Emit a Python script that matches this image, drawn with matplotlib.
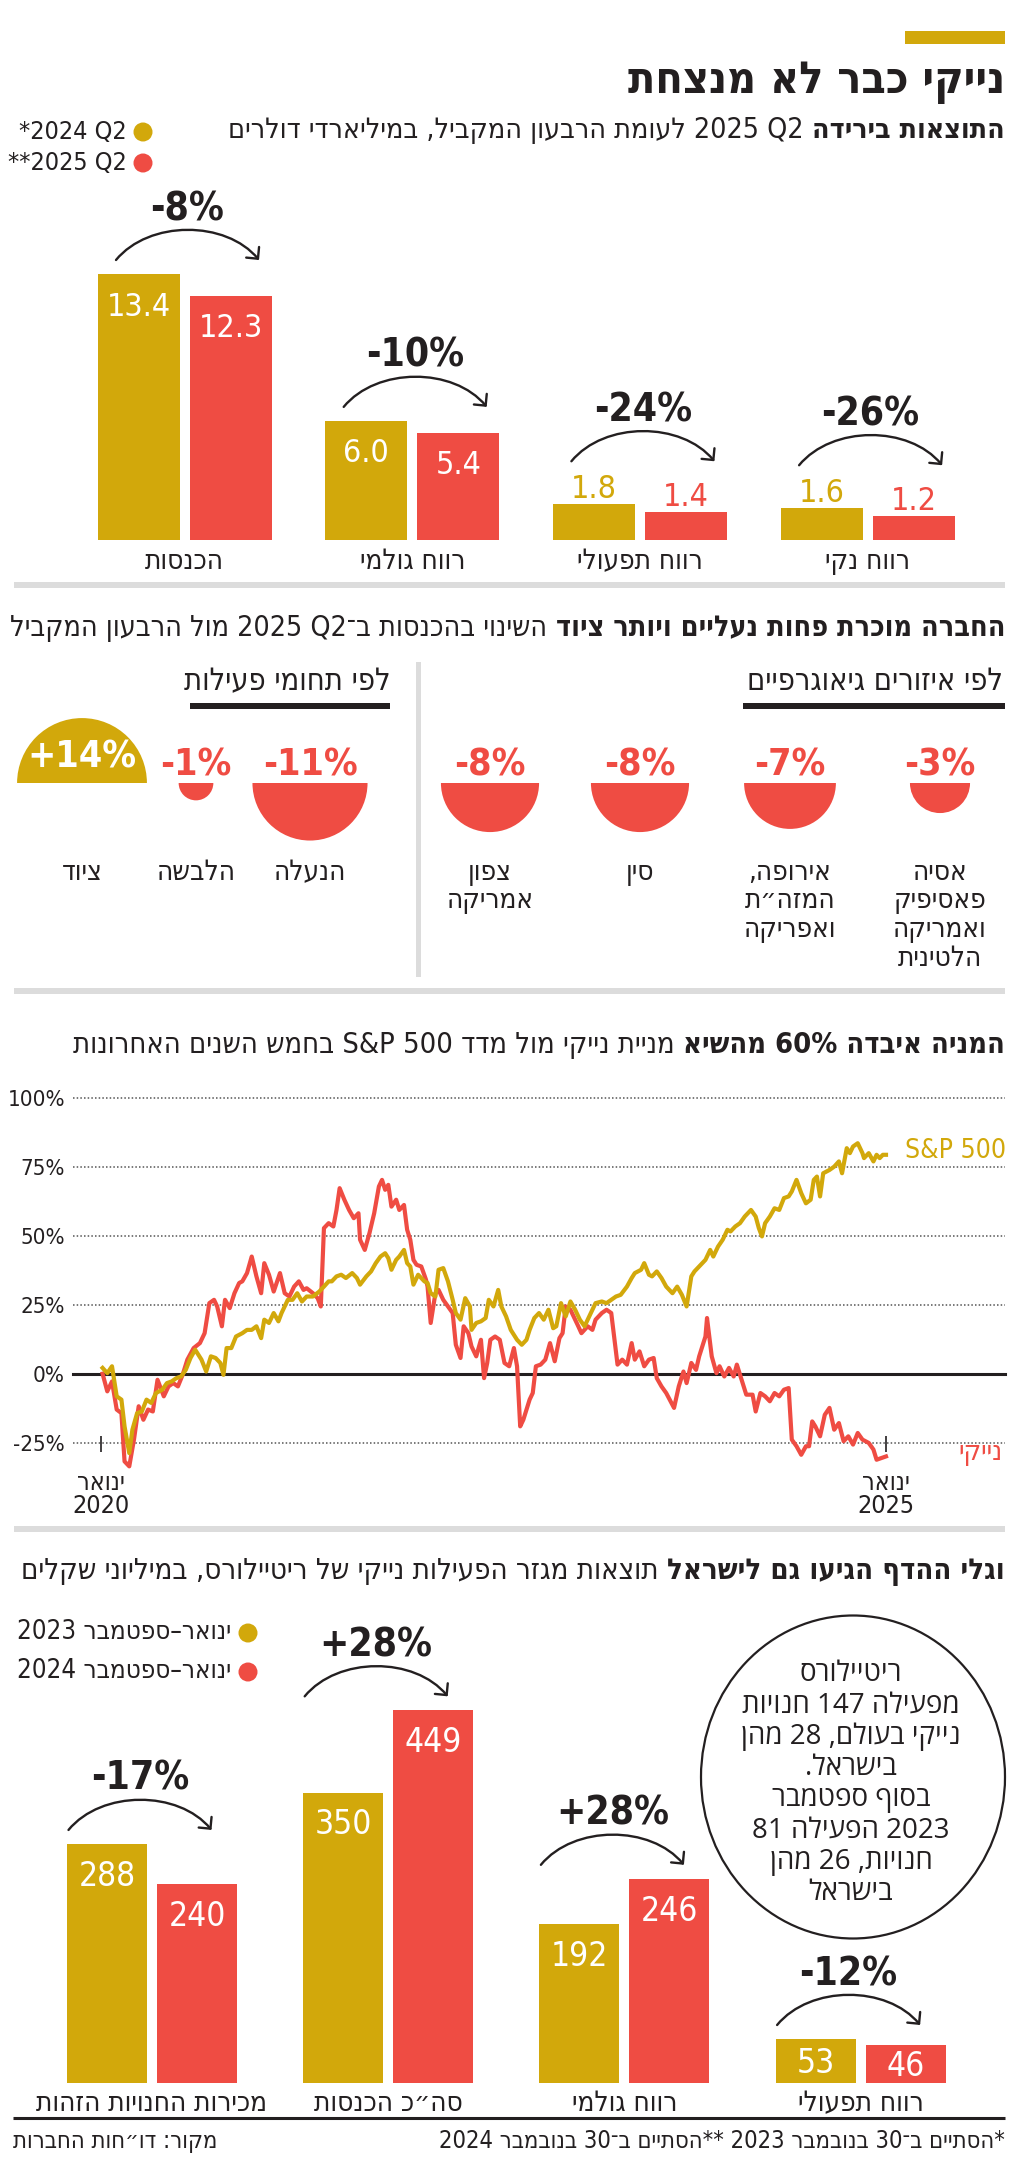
import re
import numpy as np
import matplotlib
matplotlib.use('Agg')
import matplotlib.pyplot as plt
from matplotlib import font_manager as fm
from matplotlib.ft2font import FT2Font
from matplotlib.patches import Rectangle, Circle, Wedge, Ellipse, FancyArrowPatch
from matplotlib.path import Path

# ---------------- data ----------------
cats1 = ["הכנסות", "רווח גולמי", "רווח תפעולי", "רווח נקי"]
q2_2024 = [13.4, 6.0, 1.8, 1.6]
q2_2025 = [12.3, 5.4, 1.4, 1.2]
chg1 = ["-8%", "-10%", "-24%", "-26%"]

regions = ["אסיה\nפאסיפיק\nואמריקה\nהלטינית", "אירופה,\nהמזה״ת\nואפריקה", "סין", "צפון\nאמריקה"]
region_chg = [-3, -7, -8, -8]
segments = ["הנעלה", "הלבשה", "ציוד"]
segment_chg = [-11, -1, 14]

nike_t = [2020.01, 2020.04, 2020.07, 2020.10, 2020.13, 2020.15, 2020.18, 2020.21, 2020.24, 2020.27,
          2020.30, 2020.33, 2020.36, 2020.40, 2020.43, 2020.46, 2020.49, 2020.52, 2020.55, 2020.59,
          2020.63, 2020.66, 2020.69, 2020.72, 2020.74, 2020.77, 2020.79, 2020.82, 2020.85, 2020.88,
          2020.90, 2020.93, 2020.96, 2020.99, 2021.02, 2021.04, 2021.07, 2021.10, 2021.14, 2021.17,
          2021.20, 2021.23, 2021.26, 2021.29, 2021.31, 2021.35, 2021.38, 2021.40, 2021.42, 2021.45,
          2021.48, 2021.50, 2021.52, 2021.55, 2021.58, 2021.61, 2021.64, 2021.65, 2021.68, 2021.71,
          2021.74, 2021.77, 2021.79, 2021.81, 2021.83, 2021.85, 2021.88, 2021.90, 2021.93, 2021.95,
          2021.97, 2021.99, 2022.01, 2022.04, 2022.07, 2022.08, 2022.10, 2022.13, 2022.15, 2022.18,
          2022.21, 2022.24, 2022.26, 2022.29, 2022.31, 2022.34, 2022.36, 2022.39, 2022.42, 2022.44,
          2022.46, 2022.48, 2022.51, 2022.54, 2022.57, 2022.60, 2022.63, 2022.65, 2022.67, 2022.69,
          2022.71, 2022.73, 2022.75, 2022.77, 2022.80, 2022.83, 2022.86, 2022.89, 2022.92, 2022.94,
          2022.96, 2022.99, 2023.01, 2023.04, 2023.06, 2023.10, 2023.13, 2023.15, 2023.19, 2023.22,
          2023.25, 2023.29, 2023.32, 2023.35, 2023.38, 2023.40, 2023.43, 2023.46, 2023.49, 2023.52,
          2023.54, 2023.57, 2023.60, 2023.65, 2023.68, 2023.71, 2023.73, 2023.76, 2023.79, 2023.81,
          2023.85, 2023.86, 2023.89, 2023.92, 2023.94, 2023.97, 2024.00, 2024.03, 2024.05, 2024.08,
          2024.11, 2024.15, 2024.17, 2024.20, 2024.23, 2024.26, 2024.29, 2024.32, 2024.35, 2024.38,
          2024.40, 2024.43, 2024.46, 2024.49, 2024.51, 2024.53, 2024.55, 2024.58, 2024.61, 2024.64,
          2024.67, 2024.70, 2024.73, 2024.76, 2024.79, 2024.82, 2024.85, 2024.89, 2024.92, 2024.94,
          2024.97, 2025.00]
nike_v = [0, -6.4, -2.8, -13.0, -14.3, -31.8, -33.6, -23.9, -11.8, -16.7,
          -13.0, -13.7, -2.2, -8.2, -4.6, -3.4, -4.6, -0.4, 5.1, 9.3,
          11.1, 14.7, 25.6, 26.8, 24.4, 17.2, 26.8, 23.8, 29.2, 32.9,
          33.5, 36.5, 42.5, 35.3, 29.2, 40.1, 35.9, 29.8, 36.5, 29.2,
          28.0, 31.6, 33.5, 30.4, 31.0, 29.2, 27.4, 24.4, 52.8, 54.6,
          53.4, 59.4, 67.3, 63.1, 59.4, 56.4, 58.2, 48.6, 44.9, 51.0,
          58.2, 67.9, 70.3, 66.7, 68.5, 60.6, 63.1, 59.4, 61.2, 52.2,
          48.6, 41.3, 39.5, 38.9, 34.1, 31.6, 18.4, 29.2, 30.4, 26.8,
          24.4, 22.0, 10.5, 5.7, 17.2, 14.7, 9.9, 6.3, 12.3, -1.6,
          3.9, 12.3, 13.5, 12.3, 3.9, 2.7, 9.3, 2.7, -19.1, -16.7,
          -13.0, -9.4, -7.0, 2.7, 3.3, 5.1, 11.1, 4.5, 12.9, 14.7,
          24.4, 23.2, 20.8, 17.2, 14.7, 17.2, 15.9, 19.6, 22.0, 23.2,
          22.0, 3.3, 5.1, 3.3, 11.1, 5.1, 8.1, 2.7, 5.1, 5.7,
          -1.6, -4.6, -7.0, -12.4, -4.6, 0.8, -3.4, 3.9, 1.4, 6.3,
          13.5, 20.2, 6.3, 0.2, 2.7, -1.0, 2.1, -1.0, 3.3, -2.2,
          -7.6, -7.6, -13.7, -7.0, -8.2, -10.0, -7.0, -8.2, -5.8, -5.2,
          -23.9, -26.3, -29.4, -26.3, -26.3, -17.3, -19.1, -22.7, -14.9, -12.4,
          -20.3, -17.9, -24.5, -22.7, -25.7, -21.5, -23.9, -25.1, -27.5, -31.2,
          -30.6, -30.0]

sp_t = [2020.01, 2020.04, 2020.07, 2020.10, 2020.13, 2020.15, 2020.18, 2020.20, 2020.23, 2020.26,
        2020.29, 2020.32, 2020.35, 2020.39, 2020.42, 2020.45, 2020.48, 2020.51, 2020.54, 2020.57,
        2020.60, 2020.64, 2020.67, 2020.70, 2020.73, 2020.76, 2020.78, 2020.80, 2020.83, 2020.86,
        2020.90, 2020.93, 2020.96, 2020.99, 2021.02, 2021.04, 2021.07, 2021.10, 2021.13, 2021.15,
        2021.19, 2021.22, 2021.25, 2021.28, 2021.31, 2021.35, 2021.39, 2021.42, 2021.45, 2021.47,
        2021.50, 2021.53, 2021.56, 2021.60, 2021.63, 2021.65, 2021.69, 2021.72, 2021.75, 2021.78,
        2021.81, 2021.83, 2021.85, 2021.88, 2021.90, 2021.93, 2021.95, 2021.97, 2021.99, 2022.02,
        2022.04, 2022.06, 2022.08, 2022.10, 2022.13, 2022.15, 2022.18, 2022.21, 2022.24, 2022.26,
        2022.29, 2022.32, 2022.35, 2022.36, 2022.39, 2022.42, 2022.45, 2022.47, 2022.50, 2022.53,
        2022.55, 2022.58, 2022.61, 2022.65, 2022.68, 2022.71, 2022.73, 2022.76, 2022.79, 2022.82,
        2022.85, 2022.88, 2022.90, 2022.93, 2022.96, 2022.99, 2023.02, 2023.05, 2023.08, 2023.10,
        2023.13, 2023.15, 2023.19, 2023.22, 2023.25, 2023.28, 2023.31, 2023.35, 2023.38, 2023.40,
        2023.44, 2023.46, 2023.49, 2023.51, 2023.54, 2023.57, 2023.60, 2023.64, 2023.67, 2023.70,
        2023.73, 2023.76, 2023.78, 2023.81, 2023.85, 2023.88, 2023.90, 2023.93, 2023.96, 2023.99,
        2024.01, 2024.04, 2024.07, 2024.10, 2024.14, 2024.17, 2024.19, 2024.21, 2024.23, 2024.26,
        2024.29, 2024.32, 2024.35, 2024.38, 2024.40, 2024.43, 2024.46, 2024.49, 2024.52, 2024.54,
        2024.56, 2024.58, 2024.60, 2024.64, 2024.67, 2024.70, 2024.72, 2024.75, 2024.77, 2024.79,
        2024.82, 2024.85, 2024.86, 2024.89, 2024.92, 2024.94, 2024.96, 2024.98, 2025.00]
sp_v = [2.1, 0.2, 2.7, -8.2, -9.4, -19.1, -28.8, -20.3, -14.3, -13.7,
        -9.4, -10.6, -7.0, -5.8, -3.4, -2.8, -1.6, -1.0, 1.4, 5.7,
        8.7, 5.1, 0.8, 6.3, 5.7, 3.9, -0.4, 9.3, 9.3, 13.5,
        14.7, 15.9, 15.9, 17.2, 12.9, 19.6, 18.4, 22.0, 19.0, 22.0,
        26.8, 26.8, 29.2, 26.2, 28.0, 28.0, 29.8, 31.6, 33.5, 33.5,
        35.3, 35.9, 34.7, 36.5, 34.7, 32.3, 35.3, 37.1, 40.1, 42.5,
        43.7, 41.9, 37.7, 41.3, 42.5, 44.9, 40.1, 38.9, 32.3, 35.9,
        34.7, 33.5, 32.9, 29.2, 28.0, 37.7, 38.3, 33.5, 26.8, 22.0,
        19.6, 27.4, 24.4, 15.9, 18.4, 19.0, 20.2, 26.8, 24.4, 30.4,
        24.4, 20.8, 15.9, 12.3, 10.5, 12.3, 15.9, 20.2, 22.0, 19.6,
        23.2, 16.5, 17.2, 25.6, 20.8, 26.2, 23.2, 19.6, 17.2, 19.6,
        23.2, 25.6, 26.2, 25.6, 26.8, 28.0, 28.6, 31.6, 34.7, 36.5,
        37.7, 40.1, 35.9, 35.3, 37.1, 34.7, 31.6, 29.2, 31.6, 28.6,
        24.4, 35.3, 37.1, 38.9, 41.3, 44.9, 42.5, 46.1, 48.6, 52.2,
        51.6, 53.4, 54.6, 57.0, 59.4, 57.0, 52.8, 49.8, 54.6, 57.0,
        60.0, 59.4, 63.7, 64.3, 66.1, 70.3, 65.5, 61.8, 63.1, 70.3,
        71.5, 64.3, 72.7, 73.9, 75.1, 77.0, 72.7, 81.8, 80.0, 82.4,
        83.6, 80.0, 78.2, 80.0, 77.0, 79.4, 78.2, 79.4, 79.4]
y_ticks = [100, 75, 50, 25, 0, -25]

cats4 = ["מכירות החנויות הזהות", "סה״כ הכנסות", "רווח גולמי", "רווח תפעולי"]
jan_sep_2023 = [288, 350, 192, 53]
jan_sep_2024 = [240, 449, 246, 46]
chg4 = ["-17%", "+28%", "+28%", "-12%"]

# ---------------- style ----------------
GOLD = '#D2A80B'
RED = '#EF4C43'
DARK = '#231F20'
GRAY = '#DCDCDC'
W, H = 1024, 2163

_ft = {}
def has_glyph(path, ch):
    try:
        if path not in _ft:
            _ft[path] = FT2Font(path)
        return _ft[path].get_char_index(ord(ch)) != 0
    except Exception:
        return False

def _weight(f):
    w = f.weight
    if isinstance(w, str):
        w = fm.weight_dict.get(w, 400)
    return int(w)

def _stretch(f):
    s = f.stretch
    if isinstance(s, str):
        s = fm.stretch_dict.get(s, 500)
    return int(s)

def pick(cands, bold):
    for name, narrow in cands:
        for f in fm.fontManager.ttflist:
            if f.name != name or f.style != 'normal':
                continue
            if narrow is True and _stretch(f) >= 500:
                continue
            if narrow is False and _stretch(f) < 500:
                continue
            if (_weight(f) >= 600) != bold:
                continue
            if not has_glyph(f.fname, '\u05d0'):
                continue
            return f.fname
    return fm.findfont(fm.FontProperties(family='DejaVu Sans', weight='bold' if bold else 'normal'))

COND = [('Liberation Sans Narrow', None), ('DejaVu Sans', True), ('Open Sans Condensed', None),
        ('Liberation Sans', False), ('DejaVu Sans', False)]
FR = pick(COND, False)
FB = pick(COND, True)
FC = pick([('Open Sans', False), ('Noto Sans', False), ('Liberation Sans', False), ('DejaVu Sans', False)], False)

SUBS = {'\u05be': '-', '\u05f4': '"', '\u2013': '-', '\u00a0': ' '}
def fix(s, path):
    return ''.join(c if (c in ' \n' or has_glyph(path, c)) else SUBS.get(c, c) for c in s)

_LTR = re.compile(r'[A-Za-z0-9%][A-Za-z0-9&%.,:+\-\u00a0]*')
def vis(s):
    s = s.replace('S&P 500', 'S&P\u00a0500')
    out = []
    for line in s.split('\n'):
        r = line[::-1]
        out.append(_LTR.sub(lambda m: m.group(0)[::-1], r))
    return '\n'.join(out)

fig = plt.figure(figsize=(W / 100, H / 100), dpi=100)
fig.patch.set_facecolor('white')
bg = fig.add_axes([0, 0, 1, 1], zorder=10)
bg.set_xlim(0, W)
bg.set_ylim(H, 0)
bg.axis('off')
bg.patch.set_alpha(0)
R = fig.canvas.get_renderer()

def px_axes(x0, y0, x1, y1):
    ax = fig.add_axes([x0 / W, 1 - y1 / H, (x1 - x0) / W, (y1 - y0) / H], zorder=1)
    ax.set_facecolor('none')
    ax.axis('off')
    return ax

def to_px(ax, x, y):
    d = ax.transData.transform((x, y))
    return bg.transData.inverted().transform(d)

def ptext(x, y, s, bold=False, size=18, color=DARK, ha='right', va='baseline', rtl=True, font=None, **kw):
    path = font or (FB if bold else FR)
    t = vis(s) if rtl else s
    t = fix(t, path)
    return bg.text(x, y, t, fontproperties=fm.FontProperties(fname=path, size=size),
                   color=color, ha=ha, va=va, **kw)

def rtl_line(xr, yb, segs, size, maxw=None):
    def draw(sz):
        arts = []
        x = xr
        gap = 0.3 * sz * 100 / 72
        for s, bold in segs:
            t = ptext(x, yb, s, bold=bold, size=sz, ha='right')
            w = t.get_window_extent(R).width
            arts.append(t)
            x -= w + gap
        return arts, xr - x - gap
    arts, w = draw(size)
    if maxw and w > maxw:
        for a in arts:
            a.remove()
        arts, w = draw(size * maxw / w)
    return arts

CHG_SIZE = 28
def change_arc(cx, base, label, half=71.5, h=30):
    x0, x1 = cx - half, cx + half
    k = h / 0.75
    verts = [(x0, base), (x0 + 33, base - k), (x1 - 33, base - k), (x1, base)]
    path = Path(verts, [Path.MOVETO, Path.CURVE4, Path.CURVE4, Path.CURVE4])
    arr = FancyArrowPatch(path=path, arrowstyle='->,head_length=0.6,head_width=0.6',
                          mutation_scale=10, lw=1.7, color=DARK)
    bg.add_patch(arr)
    ptext(cx, base - 40, label, bold=True, size=CHG_SIZE, ha='center', rtl=False)

def value_labels(ax, xs, vals, color, fmt, size=22):
    tops = []
    em = size * 100 / 72
    for x, v in zip(xs, vals):
        px, top = to_px(ax, x, v)
        _, base = to_px(ax, x, 0)
        h = base - top
        if h >= 37:
            cy = top + min(30, h / 2)
            ptext(px, cy + 0.36 * em, fmt(v), size=size, color='white', ha='center', rtl=False)
            tops.append(top)
        else:
            ptext(px, top - 6, fmt(v), size=size, color=color, ha='center', rtl=False)
            tops.append(top - 6 - 0.72 * em)
    return tops

def sep(y):
    bg.add_patch(Rectangle((14, y - 3), 991, 6, color=GRAY, lw=0))

# ---------------- header ----------------
bg.add_patch(Rectangle((905, 31), 100, 13, color=GOLD, lw=0))
ptext(1005, 93, "נייקי כבר לא מנצחת", bold=True, size=32)
rtl_line(1005, 138, [("התוצאות בירידה", True),
                     ("Q2 2025 לעומת הרבעון המקביל, במיליארדי דולרים", False)], 22, maxw=775)
bg.add_patch(Circle((143, 132), 9.5, color=GOLD, lw=0))
bg.add_patch(Circle((143, 163), 9.5, color=RED, lw=0))
ptext(127, 139, "*2024 Q2", size=18, rtl=False)
ptext(127, 170, "**2025 Q2", size=18, rtl=False)

# ---------------- section 1: bars ----------------
ax1 = px_axes(0, 140, W, 540)
S1 = 19.85
g1_x0, g1_dx = 184.5, 227.7
ax1.set_ylim(0, 400 / S1)
ax1.set_xlim(-g1_x0 / g1_dx, (W - g1_x0) / g1_dx)
idx1 = np.arange(len(cats1))
bw1, off1 = 82 / g1_dx, 46 / g1_dx
ax1.bar(idx1 - off1, q2_2024, bw1, color=GOLD, lw=0)
ax1.bar(idx1 + off1, q2_2025, bw1, color=RED, lw=0)
t_a = value_labels(ax1, idx1 - off1, q2_2024, GOLD, lambda v: f"{v:.1f}", size=23)
t_b = value_labels(ax1, idx1 + off1, q2_2025, RED, lambda v: f"{v:.1f}", size=23)
for i, c in enumerate(cats1):
    gx, _ = to_px(ax1, i, 0)
    change_arc(gx + 3, min(t_a[i], t_b[i]) - 14, chg1[i])
    ptext(gx, 569, c, size=20, ha='center')

sep(585)

# ---------------- section 2: semicircles ----------------
rtl_line(1005, 636, [("החברה מוכרת פחות נעליים ויותר ציוד", True),
                     ("השינוי בהכנסות ב־Q2 2025 מול הרבעון המקביל", False)], 22, maxw=991)
ptext(1003, 690, "לפי איזורים גיאוגרפיים", size=22)
bg.add_patch(Rectangle((743, 703), 262, 6, color=DARK, lw=0))
ptext(390, 690, "לפי תחומי פעילות", size=22)
bg.add_patch(Rectangle((190, 703), 200, 6, color=DARK, lw=0))
bg.add_patch(Rectangle((416, 662), 5, 315, color=GRAY, lw=0))

BASE2 = 783
K2 = 17.35

def semi(cx, v, label):
    r = K2 * np.sqrt(abs(v))
    if v < 0:
        bg.add_patch(Wedge((cx, BASE2), r, 0, 180, color=RED, lw=0))
        ptext(cx, BASE2 - 8, f"{v:+d}%", bold=True, size=27, color=RED, ha='center', rtl=False)
    else:
        bg.add_patch(Wedge((cx, BASE2), r, 180, 360, color=GOLD, lw=0))
        ptext(cx, BASE2 - 16, f"{v:+d}%", bold=True, size=27, color='white', ha='center', rtl=False)
    for j, line in enumerate(label.split('\n')):
        ptext(cx, 880 + 28.5 * j, line, size=20, ha='center')

for i, (lab, v) in enumerate(zip(regions, region_chg)):
    semi(940 - 150 * i, v, lab)
for i, (lab, v) in enumerate(zip(segments, segment_chg)):
    semi(310 - 114 * i, v, lab)

sep(991)

# ---------------- section 3: line chart ----------------
rtl_line(1005, 1053, [("המניה איבדה 60% מהשיא", True),
                      ("מניית נייקי מול מדד S&P 500 בחמש השנים האחרונות", False)], 22, maxw=933)
ax3 = px_axes(73, 1098, 1005, 1484)
ax3.set_xlim(2020 - 28 / 157, 2020 + 904 / 157)
ax3.set_ylim(-40, 100)
for g in y_ticks:
    if g == 0:
        ax3.axhline(g, color=DARK, lw=2.2, zorder=1, clip_on=False)
    else:
        ax3.axhline(g, color='#555555', lw=1.1, ls=(0, (1, 1.4)), zorder=1, clip_on=False)
    _, py = to_px(ax3, 2020, g)
    ptext(65, py + 0.36 * 16 * 100 / 72, f"{g}%", size=16, rtl=False)
ax3.plot(nike_t, nike_v, color=RED, lw=3.0, zorder=3, solid_joinstyle='round')
ax3.plot(sp_t, sp_v, color=GOLD, lw=3.0, zorder=4, solid_joinstyle='round')
ax3.vlines([2020, 2025], -28.5, -22.5, color=DARK, lw=1.2)
for yr in (2020, 2025):
    px, _ = to_px(ax3, yr, 0)
    ptext(px, 1490, "ינואר", size=18, ha='center')
    ptext(px, 1513, str(yr), size=18, ha='center', rtl=False)
ptext(905, 1158, "S&P 500", size=19, color=GOLD, ha='left', rtl=False)
ptext(1003, 1460, "נייקי", size=20, color=RED, ha='right')

sep(1529)

# ---------------- section 4: Israel bars ----------------
rtl_line(1005, 1579, [("וגלי ההדף הגיעו גם לישראל", True),
                      ("תוצאות מגזר הפעילות נייקי של ריטיילורס, במיליוני שקלים", False)], 22, maxw=982)
bg.add_patch(Circle((248, 1633), 9.5, color=GOLD, lw=0))
bg.add_patch(Circle((248, 1672), 9.5, color=RED, lw=0))
ptext(231, 1639, "ינואר–ספטמבר 2023", size=18.5)
ptext(231, 1678, "ינואר–ספטמבר 2024", size=18.5)

ax4 = px_axes(0, 1600, W, 2083)
S4 = 0.83
g4_x0, g4_dx = 152, 236.2
ax4.set_ylim(0, 483 / S4)
ax4.set_xlim(-g4_x0 / g4_dx, (W - g4_x0) / g4_dx)
idx4 = np.arange(len(cats4))
bw4, off4 = 80 / g4_dx, 45 / g4_dx
ax4.bar(idx4 - off4, jan_sep_2023, bw4, color=GOLD, lw=0)
ax4.bar(idx4 + off4, jan_sep_2024, bw4, color=RED, lw=0)
t_a = value_labels(ax4, idx4 - off4, jan_sep_2023, GOLD, lambda v: f"{v:d}", size=24)
t_b = value_labels(ax4, idx4 + off4, jan_sep_2024, RED, lambda v: f"{v:d}", size=24)
for i, c in enumerate(cats4):
    gx, _ = to_px(ax4, i, 0)
    change_arc(gx - 12, min(t_a[i], t_b[i]) - 14, chg4[i])
    ptext(gx, 2111, c, size=20, ha='center')

# info bubble
bg.add_patch(Ellipse((853, 1777), 304, 323, fill=False, ec=DARK, lw=1.6))
bubble = ["ריטיילורס", "מפעילה 147 חנויות", "נייקי בעולם, 28 מהן", "בישראל.",
          "בסוף ספטמבר", "2023 הפעילה 81", "חנויות, 26 מהן", "בישראל"]
for j, line in enumerate(bubble):
    ptext(851, 1681 + 31.3 * j, line, size=20, ha='center', font=FC)

bg.plot([13, 1005], [2118, 2118], color=DARK, lw=2.2, solid_capstyle='butt')
ptext(1005, 2148, "*הסתיים ב־30 בנובמבר 2023 **הסתיים ב־30 בנובמבר 2024", size=17)
ptext(13, 2148, "מקור: דו״חות החברות", size=17, ha='left')

fig.savefig('out.png', dpi=100, facecolor='white')
